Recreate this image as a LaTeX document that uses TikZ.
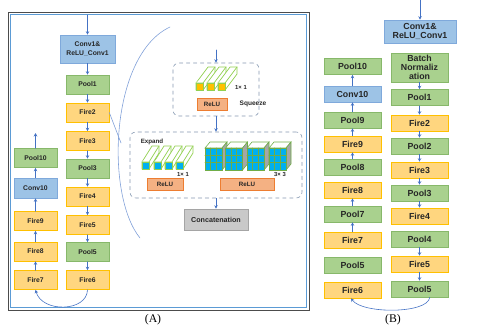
\documentclass[tikz,border=0pt]{standalone}
\usepackage{fontspec}
\setmainfont{Liberation Sans}
\newfontfamily\capfont{Liberation Serif}
\usepackage{tikz}
\usetikzlibrary{arrows.meta}
\usepackage{xcolor}
\definecolor{poolfill}{HTML}{A9D18E}
\definecolor{poolline}{HTML}{87B86A}
\definecolor{firefill}{HTML}{FFD67F}
\definecolor{fireline}{HTML}{FFC000}
\definecolor{convfill}{HTML}{9DC3E6}
\definecolor{convline}{HTML}{7FA9DB}
\definecolor{relufill}{HTML}{F4B183}
\definecolor{reluline}{HTML}{ED7D31}
\definecolor{catfill}{HTML}{C9C9C9}
\definecolor{catline}{HTML}{A5A5A5}
\definecolor{flowblue}{HTML}{4472C4}
\definecolor{dashblue}{HTML}{8497B0}
\definecolor{calloutblue}{HTML}{7F9FD8}
\definecolor{frameblue}{HTML}{5B9BD5}
\definecolor{prismgreen}{HTML}{92D050}
\definecolor{sqzyellow}{HTML}{FFC000}
\definecolor{cellblue}{HTML}{00B0F0}
\definecolor{cubeline}{HTML}{70AD47}
\definecolor{cubegray}{HTML}{A6A6A6}

\begin{document}
\begin{tikzpicture}[x=0.03cm,y=-0.03cm,>={Stealth[length=3pt,width=3pt]},line cap=round,
  blk/.style={draw,line width=0.5pt,inner sep=0pt,align=center,text=black!85},
  pool/.style={blk,fill=poolfill,draw=poolline},
  fire/.style={blk,fill=firefill,draw=fireline},
  conv/.style={blk,fill=convfill,draw=convline},
  relu/.style={blk,fill=relufill,draw=reluline,minimum height=0.35cm,font=\bfseries\fontsize{5.3}{6}\selectfont},
  cat/.style={blk,fill=catfill,draw=catline,font=\bfseries\fontsize{6.1}{7}\selectfont},
  unitA/.style={minimum width=1.29cm,minimum height=0.57cm,font=\bfseries\fontsize{5.8}{8}\selectfont},
  unitB/.style={minimum width=1.71cm,minimum height=0.48cm,font=\bfseries\fontsize{7.5}{7.7}\selectfont},
  flow/.style={->,draw=flowblue,line width=0.5pt},
  stage/.style={draw=dashblue,dashed,rounded corners=5pt,line width=0.5pt,inner sep=0pt},
  callout/.style={draw=calloutblue,line width=0.5pt},
  prism/.style={draw=prismgreen,line width=0.6pt,fill=white},
  note/.style={inner sep=0pt,text=black!85,font=\bfseries\fontsize{5}{6}\selectfont}]
\useasboundingbox (0,0) rectangle (480,330);
% frame of panel A
\draw[gray!60!black,line width=0.8pt] (8,12) rectangle (309,310);
\draw[frameblue,line width=0.6pt] (10,14) rectangle (306,307);

% panel A, main column
\node[conv,unitA,minimum width=1.65cm,minimum height=0.84cm] (aConv1) at (87.5,49) {Conv1\&\\ReLU\_Conv1};
\node[pool,unitA] (aPool1) at (87.5,84.5) {Pool1};
\node[fire,unitA] (aFire2) at (87.5,112.5) {Fire2};
\node[fire,unitA] (aFire3) at (87.5,141) {Fire3};
\node[pool,unitA] (aPool3) at (87.5,168.5) {Pool3};
\node[fire,unitA] (aFire4) at (87.5,196.5) {Fire4};
\node[fire,unitA] (aFire5) at (87.5,225) {Fire5};
\node[pool,unitA] (aPool5) at (87.5,252) {Pool5};
\node[fire,unitA] (aFire6) at (87.5,280) {Fire6};
% panel A, side column
\node[pool,unitA] (aPool10) at (35.5,158) {Pool10};
\node[conv,unitA,minimum height=0.6cm] (aConv10) at (35.5,188) {Conv10};
\node[fire,unitA] (aFire9) at (35.5,221) {Fire9};
\node[fire,unitA] (aFire8) at (35.5,251.5) {Fire8};
\node[fire,unitA] (aFire7) at (35.5,280) {Fire7};
\coordinate (aIn) at (87.5,15);
\coordinate (aOut) at (35.5,133);

\draw[flow] (aIn) -- (aConv1);
\draw[flow] (aConv1) -- (aPool1);
\draw[flow] (aPool1) -- (aFire2);
\draw[flow] (aFire2) -- (aFire3);
\draw[flow] (aFire3) -- (aPool3);
\draw[flow] (aPool3) -- (aFire4);
\draw[flow] (aFire4) -- (aFire5);
\draw[flow] (aFire5) -- (aPool5);
\draw[flow] (aPool5) -- (aFire6);
\draw[flow] (aFire6.south) .. controls (87,312) and (42,313) .. (aFire7.south);
\draw[flow] (aFire7) -- (aFire8);
\draw[flow] (aFire8) -- (aFire9);
\draw[flow] (aFire9) -- (aConv10);
\draw[flow] (aConv10) -- (aPool10);
\draw[flow] (aPool10) -- (aOut);

% zoom onto the fire module
\coordinate (zoomTip) at (121,143);
\coordinate (zoomTop) at (170,27);
\coordinate (zoomBot) at (140,238);
\draw[callout] (aFire2.east) -- (zoomTip);
\draw[callout] (zoomTop) .. controls (110,55) and (105,195) .. (zoomBot);

% squeeze layer
\node[stage,minimum width=2.58cm,minimum height=1.59cm] (sqz) at (216,89.5) {};
\coordinate (sqzIn) at (216,50);
\draw[flow] (sqzIn) -- (sqz);
\foreach \px in {196,207,218} {
  \filldraw[prism] (\px,90) -- ++(0,-7) -- ++(12,-16) -- ++(7,0) -- ++(0,7) -- ++(-12,16) -- cycle;
  \draw[prism] (\px,83) -- ++(7,0) -- ++(12,-16);
  \filldraw[prism,fill=sqzyellow] (\px,90) rectangle ++(7,-7);
}
\node[relu,minimum width=0.9cm] (sqzRelu) at (212,104) {ReLU};
\node[note] (sqzSize) at (241,87) {1× 1};
\node[note,font=\bfseries\fontsize{5.6}{6}\selectfont] (sqzName) at (253,104) {Squeeze};

% expand layer
\node[stage,minimum width=5.16cm,minimum height=1.98cm] (expd) at (216,165) {};
\draw[flow] (sqz) -- (expd);
\foreach \px in {142,154,165,176} {
  \filldraw[prism] (\px,169) -- ++(0,-7) -- ++(10,-16) -- ++(7,0) -- ++(0,7) -- ++(-10,16) -- cycle;
  \draw[prism] (\px,162) -- ++(7,0) -- ++(10,-16);
  \filldraw[prism,fill=cellblue] (\px,169) rectangle ++(7,-7);
}
\foreach \cx in {205,225.5,247,269} {
  \filldraw[draw=cubeline,fill=white,line width=0.5pt] (\cx,148) -- ++(5,-6) -- ++(17,0) -- ++(-5,6) -- cycle;
  \filldraw[draw=cubeline,fill=cubegray,line width=0.5pt] (\cx+17,148) -- ++(5,-6) -- ++(0,22) -- ++(-5,6) -- cycle;
  \filldraw[draw=cubeline,fill=cellblue,line width=0.5pt] (\cx,148) rectangle ++(17,22);
  \draw[cubeline,line width=0.8pt] (\cx+5.67,148) -- ++(0,22) (\cx+11.33,148) -- ++(0,22)
    (\cx,155.33) -- ++(17,0) (\cx,162.67) -- ++(17,0);
}
\node[note,font=\bfseries\fontsize{5.3}{6}\selectfont] (expName) at (152,142) {Expand};
\node[note] (expSize1) at (183,174) {1× 1};
\node[note] (expSize3) at (280,174) {3× 3};
\node[relu,minimum width=1.08cm] (expRelu1) at (165,184.5) {ReLU};
\node[relu,minimum width=1.62cm] (expRelu3) at (247,184) {ReLU};

% concatenation
\node[cat,minimum width=1.92cm,minimum height=0.63cm] (concat) at (216,219.5) {Concatenation};
\draw[flow] (expd) -- (concat);

% panel B, main column
\node[conv,unitB,minimum width=2.16cm,minimum height=0.69cm] (bConv1) at (420,31.5) {Conv1\&\\ReLU\_Conv1};
\node[pool,unitB,minimum height=0.87cm] (bNorm) at (419.5,67.5) {Batch\\Normaliz\\ation};
\node[pool,unitB] (bPool1) at (419.5,97.5) {Pool1};
\node[fire,unitB] (bFire2) at (419.5,123) {Fire2};
\node[pool,unitB] (bPool2) at (419.5,146) {Pool2};
\node[fire,unitB] (bFire3) at (419.5,170) {Fire3};
\node[pool,unitB] (bPool3) at (419.5,193) {Pool3};
\node[fire,unitB] (bFire4) at (419.5,216) {Fire4};
\node[pool,unitB] (bPool4) at (419.5,239) {Pool4};
\node[fire,unitB] (bFire5) at (419.5,264) {Fire5};
\node[pool,unitB] (bPool5) at (419.5,289) {Pool5};
% panel B, side column
\node[pool,unitB] (bPool10) at (352.5,66.5) {Pool10};
\node[conv,unitB] (bConv10) at (352.5,94) {Conv10};
\node[pool,unitB] (bPool9) at (352.5,120) {Pool9};
\node[fire,unitB] (bFire9) at (352.5,144) {Fire9};
\node[pool,unitB] (bPool8) at (352.5,167) {Pool8};
\node[fire,unitB] (bFire8) at (352.5,190) {Fire8};
\node[pool,unitB] (bPool7) at (352.5,214) {Pool7};
\node[fire,unitB] (bFire7) at (352.5,240) {Fire7};
\node[pool,unitB] (bPool5s) at (352.5,265) {Pool5};
\node[fire,unitB] (bFire6) at (352.5,290) {Fire6};
\coordinate (bIn) at (420,0);

\draw[flow] (bIn) -- (bConv1);
\draw[flow] (bNorm) -- (bPool1);
\draw[flow] (bPool1) -- (bFire2);
\draw[flow] (bFire2) -- (bPool2);
\draw[flow] (bPool2) -- (bFire3);
\draw[flow] (bFire3) -- (bPool3);
\draw[flow] (bPool3) -- (bFire4);
\draw[flow] (bPool4) -- (bFire5);
\draw[flow] (bFire5) -- (bPool5);
\draw[flow] (bPool5.-39) .. controls (428,314) and (362,314) .. (bFire6.-100);
\draw[flow] (bFire7) -- (bPool7);
\draw[flow] (bPool7) -- (bFire8);
\draw[flow] (bPool8) -- (bFire9);
\draw[flow] (bFire9) -- (bPool9);
\draw[flow] (bPool9) -- (bConv10);
\draw[flow] (bConv10) -- (bPool10);

% captions
\node[font=\capfont\fontsize{10}{12}\selectfont] (capA) at (153,320) {(A)};
\node[font=\capfont\fontsize{10}{12}\selectfont] (capB) at (393,320) {(B)};
\end{tikzpicture}
\end{document}
